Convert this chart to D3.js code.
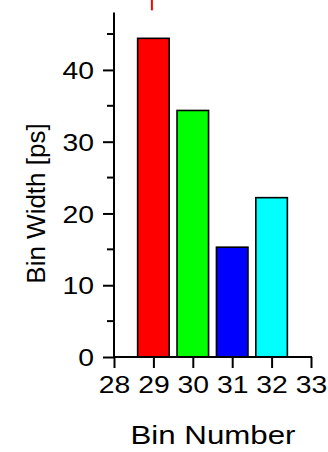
<!DOCTYPE html>
<html>
<head>
<meta charset="utf-8">
<script src="https://cdn.jsdelivr.net/npm/d3@7"></script>
<style>
  body { margin: 0; background: #fff; }
  svg text { font-family: "Liberation Sans", Arial, sans-serif; fill: #000; }
</style>
</head>
<body>
<div id="chart"></div>
<script>
// bin widths
var bins = [29, 30, 31, 32]
var widths = [44.4, 34.35, 15.3, 22.2]
var colors = ["#ff0000", "#00ff00", "#0000ff", "#00ffff"]
var xTicks = [28, 29, 30, 31, 32, 33]
var yTicks = [0, 10, 20, 30, 40]
var yMinor = [5, 15, 25, 35, 45]
// red whisker poking out above the frame (bin 29)
var errLow = [48.3]
var errHigh = [50.5]

var W = 328, H = 452
var svg = d3.select("#chart").append("svg")
  .attr("width", W)
  .attr("height", H)

var x = d3.scaleLinear().domain([28, 33]).range([114, 311])
var y = d3.scaleLinear().domain([0, 48]).range([357, 12.5])

var stretch = 1.18

// bars
svg.selectAll(".bar")
  .data(bins)
  .enter()
  .append("rect")
  .attr("class", "bar")
  .attr("x", function(d) { return x(d - 0.4) })
  .attr("width", function(d) { return x(d + 0.4) - x(d - 0.4) })
  .attr("y", function(d, i) { return y(widths[i]) })
  .attr("height", function(d, i) { return y(0) - y(widths[i]) })
  .attr("fill", function(d, i) { return colors[i] })
  .attr("stroke", "#000")
  .attr("stroke-width", 1.6)

// error whisker
svg.selectAll(".err")
  .data(errLow)
  .enter()
  .append("line")
  .attr("x1", x(bins[0]) - 1.5).attr("x2", x(bins[0]) - 1.5)
  .attr("y1", function(d) { return y(d) })
  .attr("y2", function(d, i) { return y(errHigh[i]) })
  .attr("stroke", "#ff0000")
  .attr("stroke-width", 2)

// y axis
var yaxis = svg.append("g")
  .attr("transform", "translate(114,0)")
  .call(d3.axisLeft(y).tickValues(yTicks).tickSize(11).tickPadding(9))
yaxis.select(".domain").remove()
yaxis.selectAll(".tick line").attr("stroke", "#000").attr("stroke-width", 2)
yaxis.selectAll(".tick text")
  .attr("font-size", 24)
  .attr("x", -20 / stretch)
  .attr("dy", "0.36em")
  .attr("transform", "scale(" + stretch + ",1)")

svg.append("g")
  .attr("transform", "translate(114,0)")
  .selectAll("line")
  .data(yMinor)
  .enter()
  .append("line")
  .attr("x1", -7).attr("x2", 0)
  .attr("y1", function(d) { return y(d) })
  .attr("y2", function(d) { return y(d) })
  .attr("stroke", "#000")
  .attr("stroke-width", 2)

svg.append("line")
  .attr("x1", 114).attr("x2", 114)
  .attr("y1", y(48)).attr("y2", y(0))
  .attr("stroke", "#000")
  .attr("stroke-width", 2)

// x axis
var xaxis = svg.append("g")
  .attr("transform", "translate(0," + y(0) + ")")
  .call(d3.axisBottom(x).tickValues(xTicks).tickSize(11).tickPadding(8).tickFormat(d3.format("d")))
xaxis.select(".domain").remove()
xaxis.selectAll(".tick line").attr("stroke", "#000").attr("stroke-width", 2)
xaxis.selectAll(".tick text")
  .attr("font-size", 24)
  .attr("dy", "0.72em")
  .attr("transform", "scale(" + stretch + ",1)")

svg.append("line")
  .attr("x1", x(28)).attr("x2", x(33) + 1)
  .attr("y1", y(0)).attr("y2", y(0))
  .attr("stroke", "#000")
  .attr("stroke-width", 2)

// titles
svg.append("text")
  .attr("x", 0).attr("y", 0)
  .attr("transform", "translate(213,444) scale(" + stretch + ",1)")
  .attr("text-anchor", "middle")
  .attr("font-size", 26.5)
  .text("Bin Number")

svg.append("text")
  .attr("transform", "translate(45,203.5) rotate(-90)")
  .attr("text-anchor", "middle")
  .attr("font-size", 26)
  .text("Bin Width [ps]")
</script>
</body>
</html>
